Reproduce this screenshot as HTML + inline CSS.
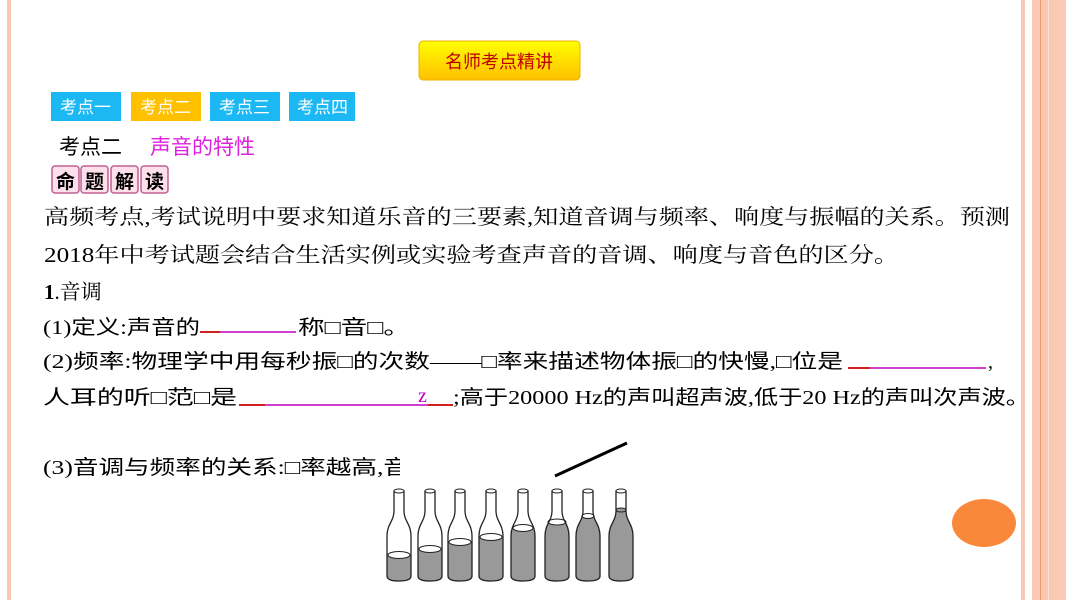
<!DOCTYPE html>
<html><head><meta charset="utf-8"><style>
body{margin:0;width:1066px;height:600px;overflow:hidden;background:#fff;position:relative}
</style></head><body>
<svg width="1066" height="600" xmlns="http://www.w3.org/2000/svg" style="position:absolute;left:0;top:0">
<defs><linearGradient id="g" x1="0" y1="0" x2="0" y2="1"><stop offset="0" stop-color="#ffff00"/><stop offset="1" stop-color="#ffc000"/></linearGradient></defs>
<rect x="7" y="0" width="4" height="600" fill="#fbc8b4"/>
<rect x="1021" y="0" width="4" height="600" fill="#fbc8b4"/>
<rect x="1032" y="0" width="34" height="600" fill="#fbc8b4"/>
<rect x="1040" y="0" width="1" height="600" fill="#f39a6a"/>
<rect x="1048" y="0" width="1" height="600" fill="#fde2d6"/>
<ellipse cx="984" cy="523" rx="32" ry="24" fill="#f9883a"/>
<rect x="419" y="41" width="161" height="39" rx="4" fill="url(#g)" stroke="#f0b000"/>
<text x="499" y="68" font-size="18" fill="#c00000" text-anchor="middle" font-family="Noto Sans CJK SC,sans-serif">名师考点精讲</text>
<g font-family="Noto Sans CJK SC,sans-serif" font-size="17" fill="#fff">
<rect x="51" y="92" width="70" height="29" fill="#1cb8f4"/><text x="60" y="113">考点一</text>
<rect x="131" y="92" width="70" height="29" fill="#ffc000"/><text x="140" y="113">考点二</text>
<rect x="210" y="92" width="70" height="29" fill="#1cb8f4"/><text x="219" y="113">考点三</text>
<rect x="289" y="92" width="66" height="29" fill="#1cb8f4"/><text x="297" y="113">考点四</text>
</g>
<text x="59" y="154" font-size="21" font-family="Noto Sans CJK SC,sans-serif" fill="#000">考点二</text>
<text x="150" y="154" font-size="21" font-family="Noto Sans CJK SC,sans-serif" fill="#e020e0">声音的特性</text>
<g font-family="Noto Sans CJK SC,sans-serif" font-size="19" font-weight="bold" fill="#000">
<rect x="52" y="166" width="27" height="27" rx="3" fill="#fde0ec" stroke="#c06090" stroke-width="1.5"/><text x="56" y="188">命</text>
<rect x="81" y="166" width="27" height="27" rx="3" fill="#fde0ec" stroke="#c06090" stroke-width="1.5"/><text x="85" y="188">题</text>
<rect x="111" y="166" width="27" height="27" rx="3" fill="#fde0ec" stroke="#c06090" stroke-width="1.5"/><text x="115" y="188">解</text>
<rect x="141" y="166" width="27" height="27" rx="3" fill="#fde0ec" stroke="#c06090" stroke-width="1.5"/><text x="145" y="188">读</text>
</g>
<g font-family="Liberation Serif,Noto Serif CJK SC,serif" font-size="21" fill="#000">
<text x="44" y="224" textLength="966" lengthAdjust="spacingAndGlyphs">高频考点,考试说明中要求知道乐音的三要素,知道音调与频率、响度与振幅的关系。预测</text>
<text x="44" y="262" textLength="855" lengthAdjust="spacingAndGlyphs">2018年中考试题会结合生活实例或实验考查声音的音调、响度与音色的区分。</text>
<text x="44" y="299"><tspan font-weight="bold">1</tspan>.音调</text>
</g>
<g font-family="Liberation Serif,Noto Sans CJK SC,sans-serif" font-size="20" fill="#000">
<text x="43" y="334" textLength="157" lengthAdjust="spacingAndGlyphs">(1)定义:声音的</text>
<text x="298" y="334" textLength="112" lengthAdjust="spacingAndGlyphs">称□音□。</text>
<text x="43" y="368" textLength="800" lengthAdjust="spacingAndGlyphs">(2)频率:物理学中用每秒振□的次数——□率来描述物体振□的快慢,□位是</text>
<text x="988" y="368">,</text>
<text x="43" y="404" textLength="194" lengthAdjust="spacingAndGlyphs">人耳的听□范□是</text>
<text x="418" y="402" fill="#c000c0">z</text>
<text x="453" y="404" textLength="577" lengthAdjust="spacingAndGlyphs">;高于20000 Hz的声叫超声波,低于20 Hz的声叫次声波。</text>
<text x="43" y="474" textLength="366" lengthAdjust="spacingAndGlyphs">(3)音调与频率的关系:□率越高,音</text>
</g>
<g stroke-width="2">
<line x1="200" y1="332" x2="220" y2="332" stroke="#d02020"/><line x1="220" y1="332" x2="296" y2="332" stroke="#d040d0"/>
<line x1="848" y1="368" x2="870" y2="368" stroke="#d02020"/><line x1="870" y1="368" x2="986" y2="368" stroke="#d040d0"/>
<line x1="239" y1="405" x2="265" y2="405" stroke="#d02020"/><line x1="265" y1="405" x2="428" y2="405" stroke="#d040d0"/><line x1="428" y1="405" x2="453" y2="405" stroke="#d02020"/>
</g>
<rect x="400" y="455" width="150" height="30" fill="#fff"/>
<line x1="555" y1="476" x2="627" y2="443" stroke="#000" stroke-width="3"/>
</svg>
<svg width="1066" height="600" style="position:absolute;left:0;top:0" xmlns="http://www.w3.org/2000/svg">
<defs>
<clipPath id="bc"><path d="M-5,0 L5,0 L5,20 C5,30 12,33 12,45 L12,85 Q12,90 0,90 Q-12,90 -12,85 L-12,45 C-12,33 -5,30 -5,20 Z"/></clipPath>
</defs>
<g transform="translate(399,491)"><rect x="-13" y="64" width="26" height="30" fill="#999" clip-path="url(#bc)"/><ellipse cx="0" cy="64" rx="11" ry="3.5" fill="#fff" stroke="#222"/><path d="M-5,0 L5,0 L5,20 C5,30 12,33 12,45 L12,85 Q12,90 0,90 Q-12,90 -12,85 L-12,45 C-12,33 -5,30 -5,20 Z" fill="none" stroke="#222" stroke-width="1.3"/><ellipse cx="0" cy="0" rx="5" ry="2" fill="#fff" stroke="#222"/></g>
<g transform="translate(430,491)"><rect x="-13" y="58" width="26" height="36" fill="#999" clip-path="url(#bc)"/><ellipse cx="0" cy="58" rx="11" ry="3.5" fill="#fff" stroke="#222"/><path d="M-5,0 L5,0 L5,20 C5,30 12,33 12,45 L12,85 Q12,90 0,90 Q-12,90 -12,85 L-12,45 C-12,33 -5,30 -5,20 Z" fill="none" stroke="#222" stroke-width="1.3"/><ellipse cx="0" cy="0" rx="5" ry="2" fill="#fff" stroke="#222"/></g>
<g transform="translate(460,491)"><rect x="-13" y="51" width="26" height="43" fill="#999" clip-path="url(#bc)"/><ellipse cx="0" cy="51" rx="11" ry="3.5" fill="#fff" stroke="#222"/><path d="M-5,0 L5,0 L5,20 C5,30 12,33 12,45 L12,85 Q12,90 0,90 Q-12,90 -12,85 L-12,45 C-12,33 -5,30 -5,20 Z" fill="none" stroke="#222" stroke-width="1.3"/><ellipse cx="0" cy="0" rx="5" ry="2" fill="#fff" stroke="#222"/></g>
<g transform="translate(491,491)"><rect x="-13" y="46" width="26" height="48" fill="#999" clip-path="url(#bc)"/><ellipse cx="0" cy="46" rx="11" ry="3.5" fill="#fff" stroke="#222"/><path d="M-5,0 L5,0 L5,20 C5,30 12,33 12,45 L12,85 Q12,90 0,90 Q-12,90 -12,85 L-12,45 C-12,33 -5,30 -5,20 Z" fill="none" stroke="#222" stroke-width="1.3"/><ellipse cx="0" cy="0" rx="5" ry="2" fill="#fff" stroke="#222"/></g>
<g transform="translate(523,491)"><rect x="-13" y="37" width="26" height="57" fill="#999" clip-path="url(#bc)"/><ellipse cx="0" cy="37" rx="10" ry="3.5" fill="#fff" stroke="#222"/><path d="M-5,0 L5,0 L5,20 C5,30 12,33 12,45 L12,85 Q12,90 0,90 Q-12,90 -12,85 L-12,45 C-12,33 -5,30 -5,20 Z" fill="none" stroke="#222" stroke-width="1.3"/><ellipse cx="0" cy="0" rx="5" ry="2" fill="#fff" stroke="#222"/></g>
<g transform="translate(557,491)"><rect x="-13" y="31" width="26" height="63" fill="#999" clip-path="url(#bc)"/><ellipse cx="0" cy="31" rx="9" ry="3" fill="#fff" stroke="#222"/><path d="M-5,0 L5,0 L5,20 C5,30 12,33 12,45 L12,85 Q12,90 0,90 Q-12,90 -12,85 L-12,45 C-12,33 -5,30 -5,20 Z" fill="none" stroke="#222" stroke-width="1.3"/><ellipse cx="0" cy="0" rx="5" ry="2" fill="#fff" stroke="#222"/></g>
<g transform="translate(588,491)"><rect x="-13" y="25" width="26" height="69" fill="#999" clip-path="url(#bc)"/><ellipse cx="0" cy="25" rx="6" ry="2.5" fill="#fff" stroke="#222"/><path d="M-5,0 L5,0 L5,20 C5,30 12,33 12,45 L12,85 Q12,90 0,90 Q-12,90 -12,85 L-12,45 C-12,33 -5,30 -5,20 Z" fill="none" stroke="#222" stroke-width="1.3"/><ellipse cx="0" cy="0" rx="5" ry="2" fill="#fff" stroke="#222"/></g>
<g transform="translate(621,491)"><rect x="-13" y="19" width="26" height="75" fill="#999" clip-path="url(#bc)"/><ellipse cx="0" cy="19" rx="5" ry="2" fill="#999" stroke="#222"/><path d="M-5,0 L5,0 L5,20 C5,30 12,33 12,45 L12,85 Q12,90 0,90 Q-12,90 -12,85 L-12,45 C-12,33 -5,30 -5,20 Z" fill="none" stroke="#222" stroke-width="1.3"/><ellipse cx="0" cy="0" rx="5" ry="2" fill="#fff" stroke="#222"/></g>
</svg>
</body></html>
